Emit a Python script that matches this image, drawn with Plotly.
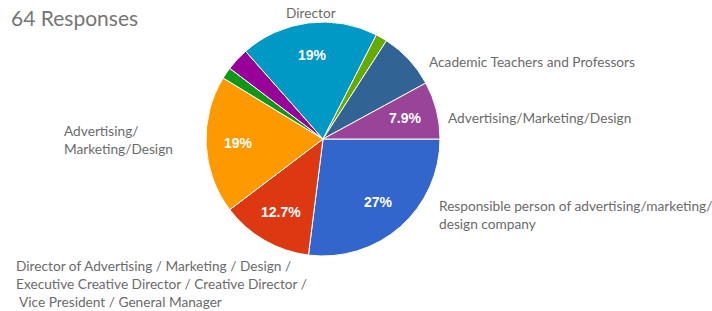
import math
import plotly.graph_objects as go

# Slices, clockwise from 3 o'clock
categories = [
    "Responsible person of advertising/marketing/design company",
    "Director of Advertising / Marketing / Design / Executive Creative Director / Creative Director / Vice President / General Manager",
    "Advertising/Marketing/Design (staff)",
    "Other A",
    "Other B",
    "Director",
    "Other C",
    "Academic Teachers and Professors",
    "Advertising/Marketing/Design",
]
counts = [17, 8, 12, 1, 2, 12, 1, 5, 5]
pct_text = ["27%", "12.7%", "19%", "", "", "19%", "", "", "7.9%"]
colors = ["#3366CC", "#DC3912", "#FF9900", "#109618", "#990099",
          "#0099C6", "#66AA00", "#316395", "#994499"]

title_text = "64 Responses"
outer_labels = [
    "Director",
    "Academic Teachers and Professors",
    "Advertising/Marketing/Design",
    "Responsible person of advertising/marketing/<br>design company",
    "Director of Advertising / Marketing / Design /<br>Executive Creative Director / Creative Director /<br> Vice President / General Manager",
    "Advertising/<br>Marketing/Design",
]

W, H = 712, 311
cx, cy, r = 323, 139, 117

fig = go.Figure(go.Pie(
    labels=categories,
    values=counts,
    textinfo="none",
    marker=dict(colors=colors, line=dict(color="white", width=1)),
    sort=False,
    direction="clockwise",
    rotation=90,
    showlegend=False,
    hoverinfo="label+percent",
    domain=dict(x=[(cx - r) / W, (cx + r) / W],
                y=[(H - cy - r) / H, (H - cy + r) / H]),
))

annotations = []
# percentage labels placed at the middle angle of each slice (derived from counts)
total = sum(counts)
cum = 0
for c, t in zip(counts, pct_text):
    mid = (cum + c / 2) / total * 360.0  # degrees clockwise from 3 o'clock
    cum += c
    if not t:
        continue
    a = math.radians(mid)
    px = cx + 0.72 * r * math.cos(a)
    py = cy + 0.72 * r * math.sin(a)
    annotations.append(dict(
        text=t, x=px / W, y=1 - py / H, xref="paper", yref="paper",
        xanchor="center", yanchor="middle", showarrow=False,
        font=dict(family="Arial", size=14, color="white", weight="bold"),
    ))

lab_font = dict(family="Lato", size=13.7, color="#6b6b6b")
# (x, y in pixels from top-left, xanchor)
pos = [
    (311, 12, "center"),
    (427, 61, "left"),
    (446, 117, "left"),
    (437, 214, "left"),
    (14, 283, "left"),
    (62, 139, "left"),
]
for txt, (x, y, xa) in zip(outer_labels, pos):
    annotations.append(dict(
        text=txt, x=x / W, y=1 - y / H, xref="paper", yref="paper",
        xanchor=xa, yanchor="middle", showarrow=False, align="left",
        font=lab_font,
    ))
annotations.append(dict(
    text=title_text, x=9 / W, y=1 - 18 / H, xref="paper", yref="paper",
    xanchor="left", yanchor="middle", showarrow=False,
    font=dict(family="Lato", size=21, color="#767676"),
))

fig.update_layout(
    width=W, height=H,
    margin=dict(l=0, r=0, t=0, b=0),
    paper_bgcolor="white", plot_bgcolor="white",
    annotations=annotations,
)

fig.write_html("out.html", config={"displayModeBar": False},
               post_script="document.body.style.margin='0';")
